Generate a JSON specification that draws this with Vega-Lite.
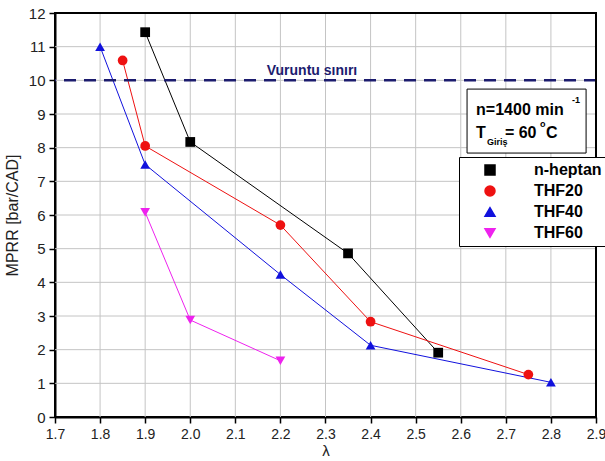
{
  "$schema": "https://vega.github.io/schema/vega-lite/v6.json",
  "width": 541,
  "height": 404,
  "autosize": {"type": "none"},
  "padding": {"left": 55, "top": 13, "right": 9, "bottom": 44},
  "background": "white",
  "config": {
    "view": {"stroke": "black", "strokeWidth": 2},
    "font": "Liberation Sans"
  },
  "datasets": {
    "series": [
      {"fuel": "n-heptan", "lambda": 1.9, "mprr": 11.43},
      {"fuel": "n-heptan", "lambda": 2.0, "mprr": 8.17},
      {"fuel": "n-heptan", "lambda": 2.35, "mprr": 4.86},
      {"fuel": "n-heptan", "lambda": 2.55, "mprr": 1.91},
      {"fuel": "THF20", "lambda": 1.85, "mprr": 10.59},
      {"fuel": "THF20", "lambda": 1.9, "mprr": 8.05},
      {"fuel": "THF20", "lambda": 2.2, "mprr": 5.7},
      {"fuel": "THF20", "lambda": 2.4, "mprr": 2.83},
      {"fuel": "THF20", "lambda": 2.75, "mprr": 1.26},
      {"fuel": "THF40", "lambda": 1.8, "mprr": 11.0},
      {"fuel": "THF40", "lambda": 1.9, "mprr": 7.5},
      {"fuel": "THF40", "lambda": 2.2, "mprr": 4.23},
      {"fuel": "THF40", "lambda": 2.4, "mprr": 2.13},
      {"fuel": "THF40", "lambda": 2.8, "mprr": 1.03},
      {"fuel": "THF60", "lambda": 1.9, "mprr": 6.08},
      {"fuel": "THF60", "lambda": 2.0, "mprr": 2.88},
      {"fuel": "THF60", "lambda": 2.2, "mprr": 1.67}
    ],
    "xgrid": [{"v": 1.8}, {"v": 1.9}, {"v": 2.0}, {"v": 2.1}, {"v": 2.2}, {"v": 2.3}, {"v": 2.4}, {"v": 2.5}, {"v": 2.6}, {"v": 2.7}, {"v": 2.8}],
    "ygrid": [{"v": 1}, {"v": 2}, {"v": 3}, {"v": 4}, {"v": 5}, {"v": 6}, {"v": 7}, {"v": 8}, {"v": 9}, {"v": 10}, {"v": 11}],
    "xedge": [{"v": 2.9}],
    "yedge": [{"v": 12}],
    "limit": [{"label": "Vuruntu sınırı", "lambda": 2.27, "mprr": 10, "labely": 10.16}],
    "note_box": [{"x1": 2.614, "x2": 2.878, "y1": 7.84, "y2": 9.74}],
    "bigtext": [
      {"t": "n=1400 min", "x": 2.634, "y": 8.97},
      {"t": "T", "x": 2.634, "y": 8.29},
      {"t": "= 60", "x": 2.698, "y": 8.29},
      {"t": "C", "x": 2.789, "y": 8.29}
    ],
    "smalltext": [
      {"t": "-1", "x": 2.847, "y": 9.33},
      {"t": "Giriş", "x": 2.658, "y": 8.08},
      {"t": "o", "x": 2.776, "y": 8.6}
    ]
  },
  "resolve": {"axis": {"x": "independent", "y": "independent"}},
  "layer": [
    {
      "data": {"name": "xgrid"},
      "mark": {"type": "rule", "color": "#c4c4c4", "strokeWidth": 1},
      "encoding": {
        "x": {"field": "v", "type": "quantitative", "axis": null}
      }
    },
    {
      "data": {"name": "ygrid"},
      "mark": {"type": "rule", "color": "#c4c4c4", "strokeWidth": 1},
      "encoding": {
        "y": {"field": "v", "type": "quantitative", "axis": null}
      }
    },
    {
      "data": {"name": "series"},
      "mark": {"type": "line", "strokeWidth": 1},
      "encoding": {
        "x": {
          "field": "lambda", "type": "quantitative",
          "scale": {"domain": [1.7, 2.9], "nice": false, "zero": false},
          "axis": {
            "orient": "bottom",
            "values": [1.7,1.8,1.9,2.0,2.1,2.2,2.3,2.4,2.5,2.6,2.7,2.8,2.9],
            "format": ".1f",
            "labelOverlap": false,
            "labelFlush": false,
            "labelFontSize": 14,
            "labelColor": "#222222",
            "labelPadding": 4,
            "grid": false,
            "tickSize": 6,
            "tickColor": "black",
            "tickWidth": 1.5,
            "domainColor": "black",
            "domainWidth": 2,
            "title": "λ",
            "titleFontSize": 15,
            "titleFontWeight": "normal",
            "titleColor": "#222222",
            "titlePadding": 2
          }
        },
        "y": {
          "field": "mprr", "type": "quantitative",
          "scale": {"domain": [0, 12], "nice": false},
          "axis": {
            "orient": "left",
            "values": [0,1,2,3,4,5,6,7,8,9,10,11,12],
            "format": "d",
            "labelOverlap": false,
            "labelFontSize": 15,
            "labelColor": "#222222",
            "labelPadding": 4,
            "grid": false,
            "tickSize": 6,
            "tickColor": "black",
            "tickWidth": 1.5,
            "domainColor": "black",
            "domainWidth": 2,
            "title": "MPRR [bar/CAD]",
            "titleFontSize": 16,
            "titleFontWeight": "normal",
            "titleColor": "#222222",
            "titlePadding": 8
          }
        },
        "color": {
          "field": "fuel", "type": "nominal",
          "scale": {"domain": ["n-heptan", "THF20", "THF40", "THF60"], "range": ["#000000", "#ee1111", "#1111dd", "#ee22ee"]},
          "legend": {
            "title": null,
            "orient": "none",
            "legendX": 404,
            "legendY": 144,
            "fillColor": "white",
            "strokeColor": "black",
            "padding": 5,
            "rowPadding": 5,
            "symbolSize": 100,
            "symbolOffset": 18,
            "labelOffset": 36,
            "labelFontSize": 16,
            "labelFontWeight": "bold",
            "labelColor": "black"
          }
        }
      }
    },
    {
      "data": {"name": "series"},
      "mark": {"type": "point", "filled": true, "opacity": 1, "size": 95},
      "encoding": {
        "x": {"field": "lambda", "type": "quantitative", "axis": null},
        "y": {"field": "mprr", "type": "quantitative", "axis": null},
        "color": {"field": "fuel", "type": "nominal"},
        "shape": {
          "field": "fuel", "type": "nominal",
          "scale": {"domain": ["n-heptan", "THF20", "THF40", "THF60"], "range": ["square", "circle", "triangle-up", "triangle-down"]}
        }
      }
    },
    {
      "data": {"name": "limit"},
      "mark": {"type": "rule", "strokeDash": [12, 8], "strokeWidth": 2.5, "color": "#1c1c6e"},
      "encoding": {
        "y": {"field": "mprr", "type": "quantitative", "axis": null}
      }
    },
    {
      "data": {"name": "limit"},
      "mark": {"type": "text", "fontSize": 14, "fontWeight": "bold", "color": "#1c1c6e", "align": "center", "baseline": "alphabetic"},
      "encoding": {
        "x": {"field": "lambda", "type": "quantitative", "axis": null},
        "y": {"field": "labely", "type": "quantitative", "axis": null},
        "text": {"field": "label"}
      }
    },
    {
      "data": {"name": "xedge"},
      "mark": {"type": "rule", "color": "black", "strokeWidth": 2},
      "encoding": {
        "x": {"field": "v", "type": "quantitative", "axis": null}
      }
    },
    {
      "data": {"name": "yedge"},
      "mark": {"type": "rule", "color": "black", "strokeWidth": 2},
      "encoding": {
        "y": {"field": "v", "type": "quantitative", "axis": null}
      }
    },
    {
      "data": {"name": "note_box"},
      "mark": {"type": "rect", "fill": "white", "stroke": "black", "strokeWidth": 1},
      "encoding": {
        "x": {"field": "x1", "type": "quantitative", "axis": null},
        "x2": {"field": "x2"},
        "y": {"field": "y1", "type": "quantitative", "axis": null},
        "y2": {"field": "y2"}
      }
    },
    {
      "data": {"name": "bigtext"},
      "mark": {"type": "text", "fontSize": 16, "fontWeight": "bold", "color": "black", "align": "left", "baseline": "alphabetic"},
      "encoding": {
        "x": {"field": "x", "type": "quantitative", "axis": null},
        "y": {"field": "y", "type": "quantitative", "axis": null},
        "text": {"field": "t"}
      }
    },
    {
      "data": {"name": "smalltext"},
      "mark": {"type": "text", "fontSize": 9, "fontWeight": "bold", "color": "black", "align": "left", "baseline": "alphabetic"},
      "encoding": {
        "x": {"field": "x", "type": "quantitative", "axis": null},
        "y": {"field": "y", "type": "quantitative", "axis": null},
        "text": {"field": "t"}
      }
    }
  ]
}
